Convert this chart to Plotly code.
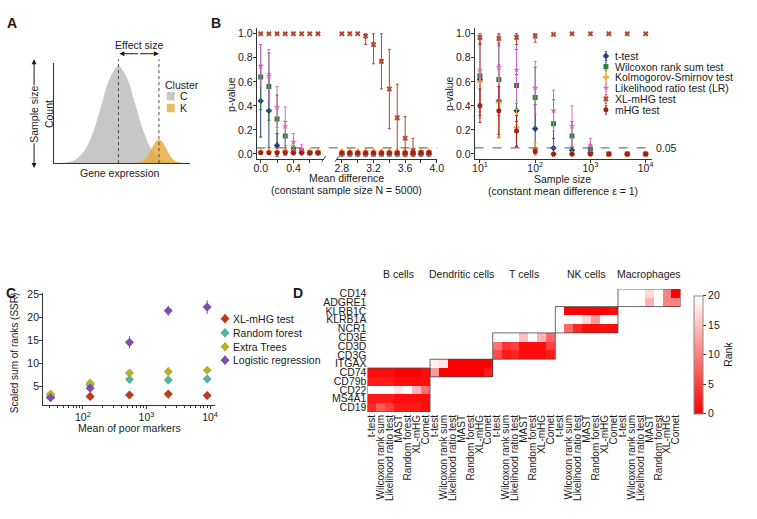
import plotly.graph_objects as go

W, H = 757, 519
FONT = "Liberation Sans, Arial, sans-serif"
TXT = "#1a1a1a"
AX = "#333333"

# ---------------- Panel A (schematic) ----------------
expr_c = [-3.8, -3.5, -3.0, -2.5, -2.0, -1.5, -1.0, -0.5, 0.0, 0.5, 1.0, 1.5, 2.0, 2.5, 3.0, 3.5, 4.0, 4.3]
count_c = [0.001, 0.002, 0.011, 0.044, 0.135, 0.325, 0.607, 0.882, 1.0, 0.882, 0.607, 0.325, 0.135, 0.044, 0.011, 0.002, 0.0005, 0.0001]
expr_k = [1.0, 1.4, 1.6, 1.8, 2.0, 2.2, 2.41, 2.6, 2.8, 3.0, 3.2, 3.4, 3.8]
count_k = [0.0015, 0.017, 0.045, 0.093, 0.159, 0.218, 0.245, 0.223, 0.164, 0.10, 0.048, 0.019, 0.0017]
mean_c = 0.0
mean_k = 2.41

# ---------------- Panel B left (mean difference, N = 5000) ----------------
mean_diff_lo = [0.0, 0.1, 0.2, 0.3, 0.4, 0.5, 0.6, 0.7]
mean_diff_hi = [2.8, 2.9, 3.0, 3.1, 3.2, 3.3, 3.4, 3.5, 3.6, 3.7, 3.8, 3.9]

ttest_lo = [0.44, 0.36, 0.07, 0.02, 0.01, 0.01, 0.01, 0.01]
ttest_lo_sd = [0.30, 0.31, 0.10, 0.03, 0.01, 0.0, 0.0, 0.0]
wilcox_lo = [0.64, 0.56, 0.29, 0.15, 0.04, 0.02, 0.01, 0.01]
wilcox_lo_sd = [0.27, 0.28, 0.20, 0.12, 0.03, 0.01, 0.0, 0.0]
ks_lo = [0.02, 0.02, 0.02, 0.02, 0.02, 0.02, 0.02, 0.02]
ks_lo_sd = [0.0, 0.0, 0.0, 0.0, 0.0, 0.0, 0.0, 0.0]
lr_lo = [0.73, 0.65, 0.39, 0.23, 0.10, 0.04, 0.01, 0.01]
lr_lo_sd = [0.18, 0.22, 0.17, 0.16, 0.07, 0.04, 0.01, 0.0]
xl_lo = [1.0, 1.0, 1.0, 1.0, 1.0, 1.0, 1.0, 1.0]
xl_lo_sd = [0.0, 0.0, 0.0, 0.0, 0.0, 0.0, 0.0, 0.0]
mhg_lo = [0.01, 0.01, 0.01, 0.01, 0.01, 0.01, 0.01, 0.01]
mhg_lo_sd = [0.0, 0.0, 0.0, 0.0, 0.0, 0.0, 0.0, 0.0]

ttest_hi = [0.0, 0.0, 0.0, 0.0, 0.0, 0.0, 0.0, 0.0, 0.0, 0.0, 0.0, 0.0]
wilcox_hi = [0.0, 0.0, 0.0, 0.0, 0.0, 0.0, 0.0, 0.0, 0.0, 0.0, 0.0, 0.0]
ks_hi = [0.02, 0.02, 0.02, 0.02, 0.02, 0.02, 0.02, 0.02, 0.02, 0.02, 0.02, 0.02]
lr_hi = [0.0, 0.0, 0.0, 0.0, 0.0, 0.0, 0.0, 0.0, 0.0, 0.0, 0.0, 0.0]
xl_hi = [1.0, 1.0, 1.0, 0.98, 0.91, 0.77, 0.54, 0.30, 0.13, 0.03, 0.01, 0.01]
xl_hi_sd = [0.0, 0.0, 0.0, 0.07, 0.16, 0.23, 0.33, 0.28, 0.18, 0.10, 0.01, 0.0]
mhg_hi = [0.01, 0.01, 0.01, 0.01, 0.01, 0.01, 0.01, 0.01, 0.01, 0.01, 0.01, 0.01]
zero_hi = [0.0, 0.0, 0.0, 0.0, 0.0, 0.0, 0.0, 0.0, 0.0, 0.0, 0.0, 0.0]

# ---------------- Panel B right (sample size, eps = 1) ----------------
sample_size = [10, 22, 46, 100, 215, 464, 1000, 2154, 4642, 10000]
ttest_n = [0.62, 0.44, 0.36, 0.21, 0.05, 0.03, 0.01, 0.0, 0.0, 0.0]
ttest_n_sd = [0.30, 0.30, 0.30, 0.20, 0.08, 0.03, 0.01, 0.0, 0.0, 0.0]
wilcox_n = [0.65, 0.62, 0.57, 0.47, 0.25, 0.15, 0.04, 0.0, 0.0, 0.0]
wilcox_n_sd = [0.30, 0.30, 0.30, 0.25, 0.20, 0.12, 0.04, 0.0, 0.0, 0.0]
ks_n = [0.60, 0.43, 0.22, 0.04, 0.0, 0.0, 0.0, 0.0, 0.0, 0.0]
ks_n_sd = [0.30, 0.30, 0.15, 0.05, 0.0, 0.0, 0.0, 0.0, 0.0, 0.0]
lr_n = [0.70, 0.72, 0.70, 0.55, 0.36, 0.23, 0.07, 0.0, 0.0, 0.0]
lr_n_sd = [0.28, 0.27, 0.28, 0.22, 0.17, 0.17, 0.06, 0.0, 0.0, 0.0]
xl_n = [0.97, 0.96, 0.97, 0.98, 0.995, 1.0, 1.0, 1.0, 1.0, 1.0]
xl_n_sd = [0.06, 0.06, 0.06, 0.05, 0.01, 0.0, 0.0, 0.0, 0.0, 0.0]
mhg_n = [0.40, 0.36, 0.19, 0.02, 0.0, 0.0, 0.0, 0.0, 0.0, 0.0]
mhg_n_sd = [0.14, 0.20, 0.13, 0.02, 0.0, 0.0, 0.0, 0.0, 0.0, 0.0]

test_names = ["t-test", "Wilcoxon rank sum test", "Kolmogorov-Smirnov test",
              "Likelihood ratio test (LR)", "XL-mHG test", "mHG test"]
test_colors = ["#2B3A8F", "#2F7D3B", "#FFA51F", "#D36AC5", "#B04A32", "#A81C1C"]
test_symbols = ["diamond", "square", "cross", "star", "x", "circle"]

# ---------------- Panel C ----------------
poor_mean = [31, 130, 540, 2200, 9000]
c_xlmhg = [2.6, 2.8, 3.1, 3.3, 3.0]
c_xlmhg_sd = [0.3, 0.4, 0.5, 0.6, 0.4]
c_rf = [3.0, 5.3, 6.5, 6.4, 6.6]
c_rf_sd = [0.5, 0.6, 0.8, 0.9, 0.8]
c_et = [3.3, 5.7, 7.9, 8.2, 8.5]
c_et_sd = [0.5, 0.6, 0.8, 1.0, 0.8]
c_lr = [2.5, 4.6, 14.6, 21.5, 22.3]
c_lr_sd = [0.4, 0.7, 1.3, 1.1, 1.5]
c_names = ["XL-mHG test", "Random forest", "Extra Trees", "Logistic regression"]
c_colors = ["#B83C20", "#52B39E", "#B3B128", "#7E4EA8"]

# ---------------- Panel D (ranks heatmap) ----------------
methods = ["t-test", "Wilcoxon rank sum", "Likelihood ratio test", "MAST", "Random forest", "XL-mHG", "Comet"]
cell_types = ["B cells", "Dendritic cells", "T cells", "NK cells", "Macrophages"]
genes = ["CD14", "ADGRE1", "KLRB1C", "KLRB1A", "NCR1", "CD3E", "CD3D", "CD3G",
         "ITGAX", "CD74", "CD79b", "CD22", "MS4A1", "CD19"]
b_genes = ["CD74", "CD79b", "CD22", "MS4A1", "CD19"]
b_ranks = [[1, 1, 1, 0, 0, 0, 1],
           [2, 2, 2, 1, 1, 1, 1],
           [20, 20, 20, 18, 20, 14, 9],
           [2, 2, 2, 1, 1, 1, 1],
           [3, 7, 5, 2, 2, 2, 1]]
dc_genes = ["ITGAX", "CD74"]
dc_ranks = [[19, 18, 0, 0, 0, 0, 0],
            [12, 0, 0, 0, 0, 0, 2]]
t_genes = ["CD3E", "CD3D", "CD3G"]
t_ranks = [[20, 20, 20, 15, 20, 14, 8],
           [9, 4, 5, 1, 1, 1, 5],
           [6, 2, 3, 1, 1, 1, 2]]
nk_genes = ["KLRB1C", "KLRB1A", "NCR1"]
nk_ranks = [[20, 0, 0, 0, 0, 0, 1],
            [20, 20, 20, 17, 12, 20, 20],
            [20, 8, 3, 1, 1, 1, 1]]
mac_genes = ["CD14", "ADGRE1"]
mac_ranks = [[20, 20, 20, 17, 20, 10, 0],
             [20, 20, 20, 14, 20, 10, 10]]


def px(x):
    return x / W


def py(y):
    return 1 - y / H


fig = go.Figure()

# ---- Panel A traces ----
fig.add_trace(go.Scatter(x=expr_c, y=count_c, mode="lines", line=dict(width=0, shape="spline"),
                         fill="tozeroy", fillcolor="#C9C7C5", xaxis="x", yaxis="y", hoverinfo="skip"))
fig.add_trace(go.Scatter(x=expr_k, y=count_k, mode="lines", line=dict(width=0, shape="spline"),
                         fill="tozeroy", fillcolor="rgba(232,170,60,0.82)", xaxis="x", yaxis="y", hoverinfo="skip"))


def add_pts(x, y, sd, color, symbol, xa, ya, size=5, cap=True, ew=1.5):
    plus = [min(s, 1 - v) if cap else s for v, s in zip(y, sd)]
    minus = [min(s, v + 0.02) if cap else s for v, s in zip(y, sd)]
    fig.add_trace(go.Scatter(
        x=x, y=y, mode="markers", xaxis=xa, yaxis=ya,
        marker=dict(color=color, symbol=symbol, size=size, line=dict(width=0)),
        error_y=dict(type="data", array=plus, arrayminus=minus, color=color, thickness=1, width=ew),
        hoverinfo="skip"))


lo_sets = [(ttest_lo, ttest_lo_sd), (wilcox_lo, wilcox_lo_sd), (ks_lo, ks_lo_sd),
           (lr_lo, lr_lo_sd), (xl_lo, xl_lo_sd), (mhg_lo, mhg_lo_sd)]
hi_sets = [(ttest_hi, zero_hi), (wilcox_hi, zero_hi), (ks_hi, zero_hi),
           (lr_hi, zero_hi), (xl_hi, xl_hi_sd), (mhg_hi, zero_hi)]
n_sets = [(ttest_n, ttest_n_sd), (wilcox_n, wilcox_n_sd), (ks_n, ks_n_sd),
          (lr_n, lr_n_sd), (xl_n, xl_n_sd), (mhg_n, mhg_n_sd)]

for i in range(6):
    add_pts(mean_diff_lo, lo_sets[i][0], lo_sets[i][1], test_colors[i], test_symbols[i], "x2", "y2")
    add_pts(mean_diff_hi, hi_sets[i][0], hi_sets[i][1], test_colors[i], test_symbols[i], "x3", "y2")
    add_pts(sample_size, n_sets[i][0], n_sets[i][1], test_colors[i], test_symbols[i], "x4", "y4")

# ---- Panel C traces ----
c_sets = [(c_xlmhg, c_xlmhg_sd), (c_rf, c_rf_sd), (c_et, c_et_sd), (c_lr, c_lr_sd)]
for i in range(4):
    add_pts(poor_mean, c_sets[i][0], c_sets[i][1], c_colors[i], "diamond", "x5", "y5", size=7, cap=False, ew=0)

# ---- Panel D heatmap ----
blocks = [(b_genes, b_ranks), (dc_genes, dc_ranks), (t_genes, t_ranks),
          (nk_genes, nk_ranks), (mac_genes, mac_ranks)]
nm = len(methods)
z = [[None] * (nm * len(cell_types)) for _ in genes]
for bi, (gl, rk) in enumerate(blocks):
    for gi, g in enumerate(gl):
        r = genes.index(g)
        for mi in range(nm):
            z[r][bi * nm + mi] = rk[gi][mi]

fig.add_trace(go.Heatmap(
    z=z, x=list(range(nm * len(cell_types))), y=list(range(len(genes))),
    xaxis="x6", yaxis="y6", zmin=0, zmax=20,
    colorscale=[[0, "#FF0000"], [1, "#FFFFFF"]], hoverinfo="skip",
    colorbar=dict(x=px(700), xanchor="left", y=py(294), yanchor="top",
                  len=(413 - 294) / H, lenmode="fraction", thickness=9, thicknessmode="pixels",
                  xpad=0, ypad=0, outlinewidth=1, outlinecolor="#888888",
                  tickvals=[0, 5, 10, 15, 20], ticks="outside", ticklen=3, tickcolor=AX,
                  tickfont=dict(size=10.5, color=TXT, family=FONT),
                  title=dict(text="Rank", side="right", font=dict(size=10.5, color=TXT, family=FONT)))))

# ---- Legends (drawn in a pixel-coordinate overlay axis) ----
leg_b_y = [51.7, 62.3, 73.0, 83.7, 95.0, 106.0]
for i in range(6):
    fig.add_trace(go.Scatter(x=[611], y=[leg_b_y[i]], mode="markers", xaxis="x7", yaxis="y7",
                             marker=dict(color=test_colors[i], symbol=test_symbols[i], size=5),
                             error_y=dict(type="data", array=[4.5], color=test_colors[i], thickness=1, width=1),
                             hoverinfo="skip"))
leg_c_y = [317.3, 331.7, 345.7, 359.3]
for i in range(4):
    fig.add_trace(go.Scatter(x=[225], y=[leg_c_y[i]], mode="markers", xaxis="x7", yaxis="y7",
                             marker=dict(color=c_colors[i], symbol="diamond", size=7),
                             error_y=dict(type="data", array=[4.5], color=c_colors[i], thickness=1.2, width=0),
                             hoverinfo="skip"))

# ---------------- layout ----------------
tickf = dict(size=10.5, color=TXT, family=FONT)
base = dict(showgrid=False, zeroline=False, showline=True, linecolor=AX, linewidth=1,
            ticks="outside", ticklen=3, tickwidth=1, tickcolor=AX, tickfont=tickf)
minor_tick = dict(ticks="outside", ticklen=3, tickwidth=1, tickcolor=AX)

layout = dict(
    width=W, height=H, margin=dict(l=0, r=0, t=0, b=0),
    paper_bgcolor="white", plot_bgcolor="rgba(0,0,0,0)", showlegend=False,
    font=dict(family=FONT, size=10.5, color=TXT),
    xaxis=dict(domain=[px(52), px(190)], range=[-3.82, 4.29], anchor="y", showgrid=False, zeroline=False,
               showline=True, linecolor=AX, linewidth=1, ticks="", showticklabels=False),
    yaxis=dict(domain=[py(160), py(59)], range=[0, 1.03], anchor="x", showgrid=False, zeroline=False,
               showline=True, linecolor=AX, linewidth=1, ticks="", showticklabels=False),
    xaxis2=dict(base, domain=[px(257), px(325)], range=[-0.05, 0.77], anchor="y2", ticklabelstandoff=-4,
                tickvals=[0, 0.4], ticktext=["0.0", "0.4"],
                minor=dict(minor_tick, tickvals=[0.2, 0.6])),
    xaxis3=dict(base, domain=[px(337), px(440)], range=[2.72, 4.005], anchor="y2", ticklabelstandoff=-4,
                tickvals=[2.8, 3.2, 3.6, 4.0], ticktext=["2.8", "3.2", "3.6", "4.0"],
                minor=dict(minor_tick, tickvals=[3.0, 3.4, 3.8])),
    yaxis2=dict(base, domain=[py(156), py(23)], range=[-0.044, 1.05], anchor="x2", ticklabelstandoff=-2,
                tickvals=[0, 0.2, 0.4, 0.6, 0.8, 1.0], ticktext=["0.0", "0.2", "0.4", "0.6", "0.8", "1.0"]),
    xaxis4=dict(base, type="log", domain=[px(478), px(658)], range=[0.905, 4.12], anchor="y4",
                ticklabelstandoff=-4, tickvals=[10, 100, 1000, 10000],
                ticktext=["10<sup>1</sup>", "10<sup>2</sup>", "10<sup>3</sup>", "10<sup>4</sup>"]),
    yaxis4=dict(base, domain=[py(156), py(23)], range=[-0.044, 1.05], anchor="x4", ticklabelstandoff=-2,
                tickvals=[0, 0.2, 0.4, 0.6, 0.8, 1.0], ticktext=["0.0", "0.2", "0.4", "0.6", "0.8", "1.0"]),
    xaxis5=dict(base, type="log", domain=[px(40.7), px(215)], range=[1.375, 4.08], anchor="y5",
                tickvals=[100, 1000, 10000],
                ticktext=["10<sup>2</sup>", "10<sup>3</sup>", "10<sup>4</sup>"],
                minor=dict(ticks="outside", ticklen=2, tickcolor=AX,
                           tickvals=[30, 40, 50, 60, 70, 80, 90, 200, 300, 400, 500, 600, 700, 800, 900,
                                     2000, 3000, 4000, 5000, 6000, 7000, 8000, 9000])),
    yaxis5=dict(base, domain=[py(404.3), py(291.7)], range=[1.0, 25.3], anchor="x5", ticklabelstandoff=-2,
                tickvals=[5, 10, 15, 20, 25]),
    xaxis6=dict(domain=[px(369.3), px(686.7)], range=[-0.5, 34.5], anchor="y6", showgrid=False,
                zeroline=False, showline=False, ticks="", tickangle=-90,
                tickvals=list(range(nm * len(cell_types))), ticktext=methods * len(cell_types),
                tickfont=dict(size=10, color=TXT, family=FONT)),
    yaxis6=dict(domain=[py(411.7), py(287.3)], range=[13.5, -0.5], anchor="x6", showgrid=False,
                zeroline=False, showline=False, ticks="",
                tickvals=list(range(len(genes))), ticktext=genes,
                tickfont=dict(size=10.5, color=TXT, family=FONT)),
    xaxis7=dict(domain=[0, 1], range=[0, W], visible=False, anchor="y7", fixedrange=True),
    yaxis7=dict(domain=[0, 1], range=[H, 0], visible=False, anchor="x7", fixedrange=True),
)
fig.update_layout(**layout)

ann = []


def text(x, y, s, size=10.5, xanchor="center", angle=0, bold=False, bg=None):
    d = dict(x=px(x), y=py(y), xref="paper", yref="paper", text=("<b>%s</b>" % s) if bold else s,
             showarrow=False, xanchor=xanchor, yanchor="middle", textangle=angle,
             font=dict(size=size, color=TXT, family=FONT))
    if bg:
        d["bgcolor"] = bg
        d["borderpad"] = 0
    ann.append(d)


def arrow(xh, yh, xt, yt):
    ann.append(dict(x=px(xh), y=py(yh), xref="paper", yref="paper", ax=xt - xh, ay=yt - yh,
                    axref="pixel", ayref="pixel", showarrow=True, arrowhead=2, arrowsize=1,
                    arrowwidth=1, arrowcolor=TXT, text=""))


# panel letters
text(9, 18, "A", size=14, bold=True)
text(216, 18, "B", size=14, bold=True)
text(8, 291, "C", size=14, bold=True)
text(299, 291, "D", size=14, bold=True)

# Panel A annotations
arrow(118, 49.3, 138, 49.3)
arrow(158, 49.3, 138, 49.3)
text(138, 40.7, "Effect size")
arrow(31.5, 55, 31.5, 110)
arrow(31.5, 165, 31.5, 110)
text(31.5, 111, "Sample size", angle=-90, bg="white")
text(46, 110, "Count", angle=-90)
text(119, 170, "Gene expression")
text(162, 81, "Cluster", xanchor="left")
text(177, 92.5, "C", xanchor="left")
text(177, 104, "K", xanchor="left")

# Panel B annotations
text(231, 90, "p-value", angle=-90)
text(452, 90, "p-value", angle=-90)
text(348, 175, "Mean difference")
text(348, 187, "(constant sample size N = 5000)")
text(567, 176, "Sample size")
text(567, 188, "(constant mean difference ε = 1)")
text(660, 144.6, "0.05", xanchor="left")
for i in range(6):
    text(618, leg_b_y[i], test_names[i], xanchor="left")

# Panel C annotations
text(12.5, 352, "Scaled sum of ranks (SSR)", size=10, angle=-90)
text(128, 428, "Mean of poor markers")
for i in range(4):
    text(231, leg_c_y[i], c_names[i], xanchor="left")

# Panel D group labels
for bi, ct in enumerate(cell_types):
    ann.append(dict(x=bi * nm + (nm - 1) / 2, y=py(272.5), xref="x6", yref="paper", text=ct,
                    showarrow=False, xanchor="center", yanchor="middle",
                    font=dict(size=10.5, color=TXT, family=FONT)))

fig.update_layout(annotations=ann)

shapes = []
# Panel A dashed mean lines
for m in (mean_c, mean_k):
    shapes.append(dict(type="line", xref="x", yref="paper", x0=m, x1=m, y0=py(160), y1=py(55),
                       line=dict(color="#444444", width=1, dash="dot")))
# Panel A legend keys
shapes.append(dict(type="rect", xref="paper", yref="paper", x0=px(166), x1=px(174), y0=py(96.5), y1=py(88),
                   fillcolor="#C9C7C5", line=dict(width=0)))
shapes.append(dict(type="rect", xref="paper", yref="paper", x0=px(166), x1=px(174), y0=py(108.5), y1=py(100),
                   fillcolor="rgba(232,170,60,0.82)", line=dict(width=0)))
# Panel B threshold lines
shapes.append(dict(type="line", xref="paper", yref="y2", x0=px(257), x1=px(440), y0=0.05, y1=0.05,
                   line=dict(color="#555555", width=1, dash="dash")))
shapes.append(dict(type="line", xref="paper", yref="y4", x0=px(478), x1=px(658), y0=0.05, y1=0.05,
                   line=dict(color="#555555", width=1, dash="dash")))
# axis break marks
for x0 in (323, 336.5):
    shapes.append(dict(type="line", xref="paper", yref="paper", x0=px(x0), x1=px(x0 + 4), y0=py(158.5), y1=py(153),
                       line=dict(color=AX, width=1)))
# Panel D block outlines
for bi, (gl, rk) in enumerate(blocks):
    rows = [genes.index(g) for g in gl]
    shapes.append(dict(type="rect", xref="x6", yref="y6", x0=bi * nm - 0.5, x1=bi * nm + nm - 0.5,
                       y0=min(rows) - 0.5, y1=max(rows) + 0.5, line=dict(color="#444444", width=0.8)))
fig.update_layout(shapes=shapes)

fig.write_html("out.html")
